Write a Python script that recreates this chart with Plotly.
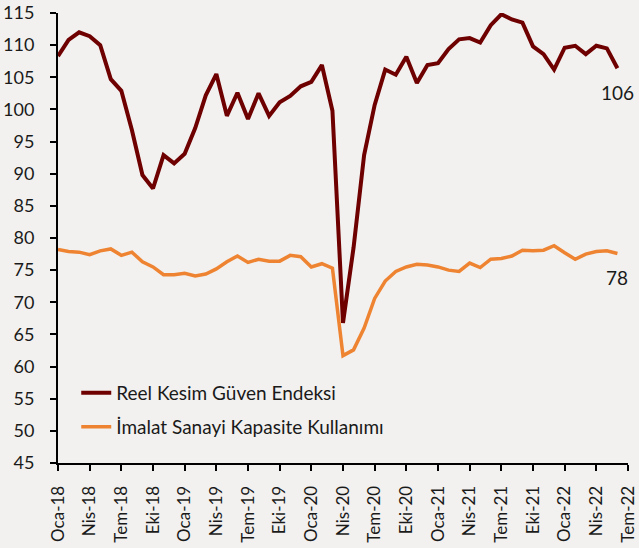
import plotly.graph_objects as go

month_names = ["Oca", "Şub", "Mar", "Nis", "May", "Haz", "Tem", "Ağu", "Eyl", "Eki", "Kas", "Ara"]
years = ["18", "19", "20", "21", "22"]
months = [f"{m}-{y}" for y in years for m in month_names][:55]  # Oca-18 .. Tem-22

reel_kesim = [108.3, 110.8, 112.0, 111.4, 110.0, 104.7, 102.9, 96.8, 89.8, 87.7,
              92.9, 91.6, 93.1, 97.1, 102.2, 105.5, 99.0, 102.6, 98.5, 102.5,
              99.0, 101.1, 102.1, 103.6, 104.3, 106.9, 99.8, 66.8, 78.5, 92.9,
              100.7, 106.2, 105.4, 108.2, 104.1, 106.9, 107.2, 109.4, 110.9, 111.1,
              110.4, 113.1, 114.8, 114.0, 113.5, 109.8, 108.6, 106.2, 109.6, 109.9,
              108.6, 109.9, 109.5, 106.4]

kapasite = [78.2, 77.9, 77.8, 77.4, 78.0, 78.3, 77.3, 77.8, 76.3, 75.5,
            74.3, 74.3, 74.5, 74.1, 74.4, 75.2, 76.3, 77.2, 76.2, 76.7,
            76.4, 76.4, 77.3, 77.1, 75.5, 76.0, 75.3, 61.7, 62.6, 66.0,
            70.6, 73.3, 74.8, 75.5, 75.9, 75.8, 75.5, 75.0, 74.8, 76.1,
            75.4, 76.7, 76.8, 77.2, 78.1, 78.0, 78.1, 78.8, 77.7, 76.7,
            77.5, 77.9, 78.0, 77.6]

series_names = ["Reel Kesim Güven Endeksi", "İmalat Sanayi Kapasite Kullanımı"]
end_labels = ["106", "78"]

DARK = "#6E0000"
ORANGE = "#EE8432"
BG = "#F2F1EF"
FONT = "Lato"
TXT = "#1A1A1A"

x_idx = list(range(len(reel_kesim)))

fig = go.Figure()
fig.add_trace(go.Scatter(x=x_idx, y=reel_kesim, mode="lines", name=series_names[0],
                         line=dict(color=DARK, width=4), legend="legend"))
fig.add_trace(go.Scatter(x=x_idx, y=kapasite, mode="lines", name=series_names[1],
                         line=dict(color=ORANGE, width=3.5), legend="legend2"))

for vals, lab in zip([reel_kesim, kapasite], end_labels):
    fig.add_annotation(x=x_idx[-1], y=vals[-1], text=lab, showarrow=False,
                       xanchor="center", yanchor="middle", yshift=-24,
                       font=dict(family=FONT, size=19, color=TXT))

tick_vals = list(range(0, len(months), 3))
tick_text = [months[i] for i in tick_vals]

legend_common = dict(bgcolor="rgba(0,0,0,0)", font=dict(family=FONT, size=19, color=TXT),
                     xanchor="left", yanchor="middle", itemwidth=30)

fig.update_layout(
    width=639, height=548,
    margin=dict(l=58, r=11, t=13, b=85),
    paper_bgcolor=BG, plot_bgcolor=BG,
    font=dict(family=FONT, size=17, color=TXT),
    showlegend=True,
    legend=dict(x=0.032, y=0.156, **legend_common),
    legend2=dict(x=0.032, y=0.08, **legend_common),
    xaxis=dict(range=[0, len(months) - 1 + 0.001], tickmode="array", tickvals=tick_vals,
               ticktext=tick_text, tickangle=-90, showgrid=False, zeroline=False,
               showline=True, linecolor="black", linewidth=2, ticks="outside",
               ticklen=6, tickwidth=1.5, tickcolor="black", automargin=False,
               ticklabeloverflow="allow", ticklabelstandoff=8,
               tickfont=dict(family=FONT, size=17, color=TXT)),
    yaxis=dict(range=[45, 115], dtick=5, tick0=45, showgrid=False, zeroline=False,
               showline=True, linecolor="black", linewidth=2, ticks="outside",
               ticklen=6, tickwidth=1.5, tickcolor="black", ticklabelstandoff=12,
               automargin=False, ticklabeloverflow="allow",
               tickfont=dict(family=FONT, size=18, color=TXT)),
)

fig.write_html("out.html", config={"displayModeBar": False},
               post_script="document.body.style.margin='0';document.body.style.padding='0';"
                           "document.body.style.background='" + BG + "';")
